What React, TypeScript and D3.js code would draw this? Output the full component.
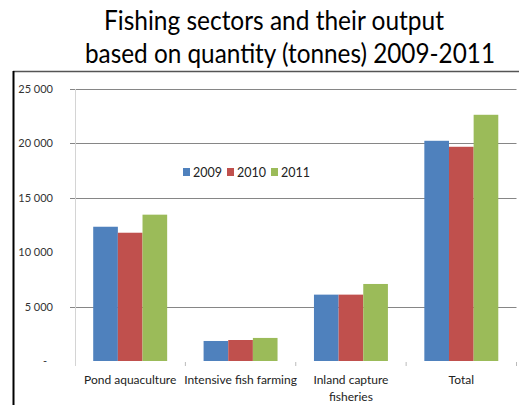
import React from "react";
import * as d3 from "d3";

const categories = ["Pond aquaculture", "Intensive fish farming", "Inland capture fisheries", "Total"];
const categoryLines = [["Pond aquaculture"], ["Intensive fish farming"], ["Inland capture", "fisheries"], ["Total"]];
const years = ["2009", "2010", "2011"];
const values2009 = [12340, 1840, 6100, 20240];
const values2010 = [11790, 1930, 6100, 19690];
const values2011 = [13450, 2120, 7080, 22630];
const yTicks = [0, 5000, 10000, 15000, 20000, 25000];
const yTickLabels = ["-", "5 000", "10 000", "15 000", "20 000", "25 000"];
const gridValues = [5000, 15000, 20000, 25000];
const colors = ["#4F81BD", "#C0504D", "#9BBB59"];
const titleLines = ["Fishing sectors and their output", "based on quantity (tonnes) 2009-2011"];

const series = [values2009, values2010, values2011];

export default function App() {
  const W = 519, H = 405;
  const left = 75, right = 516.5, top = 89, bottom = 361;
  const y = d3.scaleLinear().domain([0, 25000]).range([bottom, top]);
  const x0 = d3.scaleBand<string>().domain(categories).range([left, right]).paddingInner(0.33).paddingOuter(0.165);
  const x1 = d3.scaleBand<string>().domain(years).range([0, x0.bandwidth()]);
  const step = x0.step();
  const font = "Lato, 'Open Sans', sans-serif";

  return (
    <svg width={W} height={H} style={{ position: "absolute", left: 0, top: 0, background: "#fff" }} fontFamily={font}>
      <rect x={0} y={0} width={W} height={H} fill="#fff" />
      {/* title */}
      <text x={104} y={30} fontSize={26} fill="#000" textLength={340} lengthAdjust="spacingAndGlyphs">{titleLines[0]}</text>
      <text x={85} y={63} fontSize={26} fill="#000" textLength={410} lengthAdjust="spacingAndGlyphs">{titleLines[1]}</text>
      {/* frame */}
      <line x1={13} x2={519} y1={71.5} y2={71.5} stroke="#555" strokeWidth={1.5} />
      <line x1={13.5} x2={13.5} y1={71} y2={405} stroke="#000" strokeWidth={2} />
      {/* gridlines */}
      {gridValues.map((v) => (
        <line key={v} x1={70} x2={right} y1={Math.round(y(v)) + 0.5} y2={Math.round(y(v)) + 0.5} stroke="#868686" strokeWidth={1} />
      ))}
      {/* y axis line */}
      <line x1={left + 0.5} x2={left + 0.5} y1={top} y2={bottom + 5} stroke="#d4d4d4" strokeWidth={1} />
      {/* y labels */}
      {yTicks.map((v, i) => (
        <text key={v} x={v === 0 ? 47 : 53} y={y(v) + 4} fontSize={11} fill="#333" textAnchor="end">{yTickLabels[i]}</text>
      ))}
      {/* category boundary ticks */}
      {categories.map((c, i) => (
        <line key={c} x1={left + step * (i + 1)} x2={left + step * (i + 1)} y1={bottom + 1} y2={bottom + 5} stroke="#bbb" strokeWidth={1} />
      ))}
      {/* bars */}
      {categories.map((c, ci) => (
        <g key={c} transform={`translate(${x0(c)},0)`}>
          {years.map((yr, si) => (
            <rect key={yr} x={x1(yr)} y={y(series[si][ci])} width={x1.bandwidth()} height={bottom - y(series[si][ci])} fill={colors[si]} />
          ))}
        </g>
      ))}
      {/* category labels */}
      {categories.map((c, ci) => (
        <text key={c} x={(x0(c) as number) + x0.bandwidth() / 2} y={384} fontSize={12} fill="#222" textAnchor="middle">
          {categoryLines[ci].map((ln, li) => (
            <tspan key={li} x={(x0(c) as number) + x0.bandwidth() / 2} dy={li === 0 ? 0 : 17}>{ln}</tspan>
          ))}
        </text>
      ))}
      {/* legend */}
      {years.map((yr, i) => (
        <g key={yr} transform={`translate(${183 + i * 44},0)`}>
          <rect x={0} y={168} width={7} height={8} fill={colors[i]} />
          <text x={10} y={177} fontSize={12.5} fill="#222">{yr}</text>
        </g>
      ))}
    </svg>
  );
}
